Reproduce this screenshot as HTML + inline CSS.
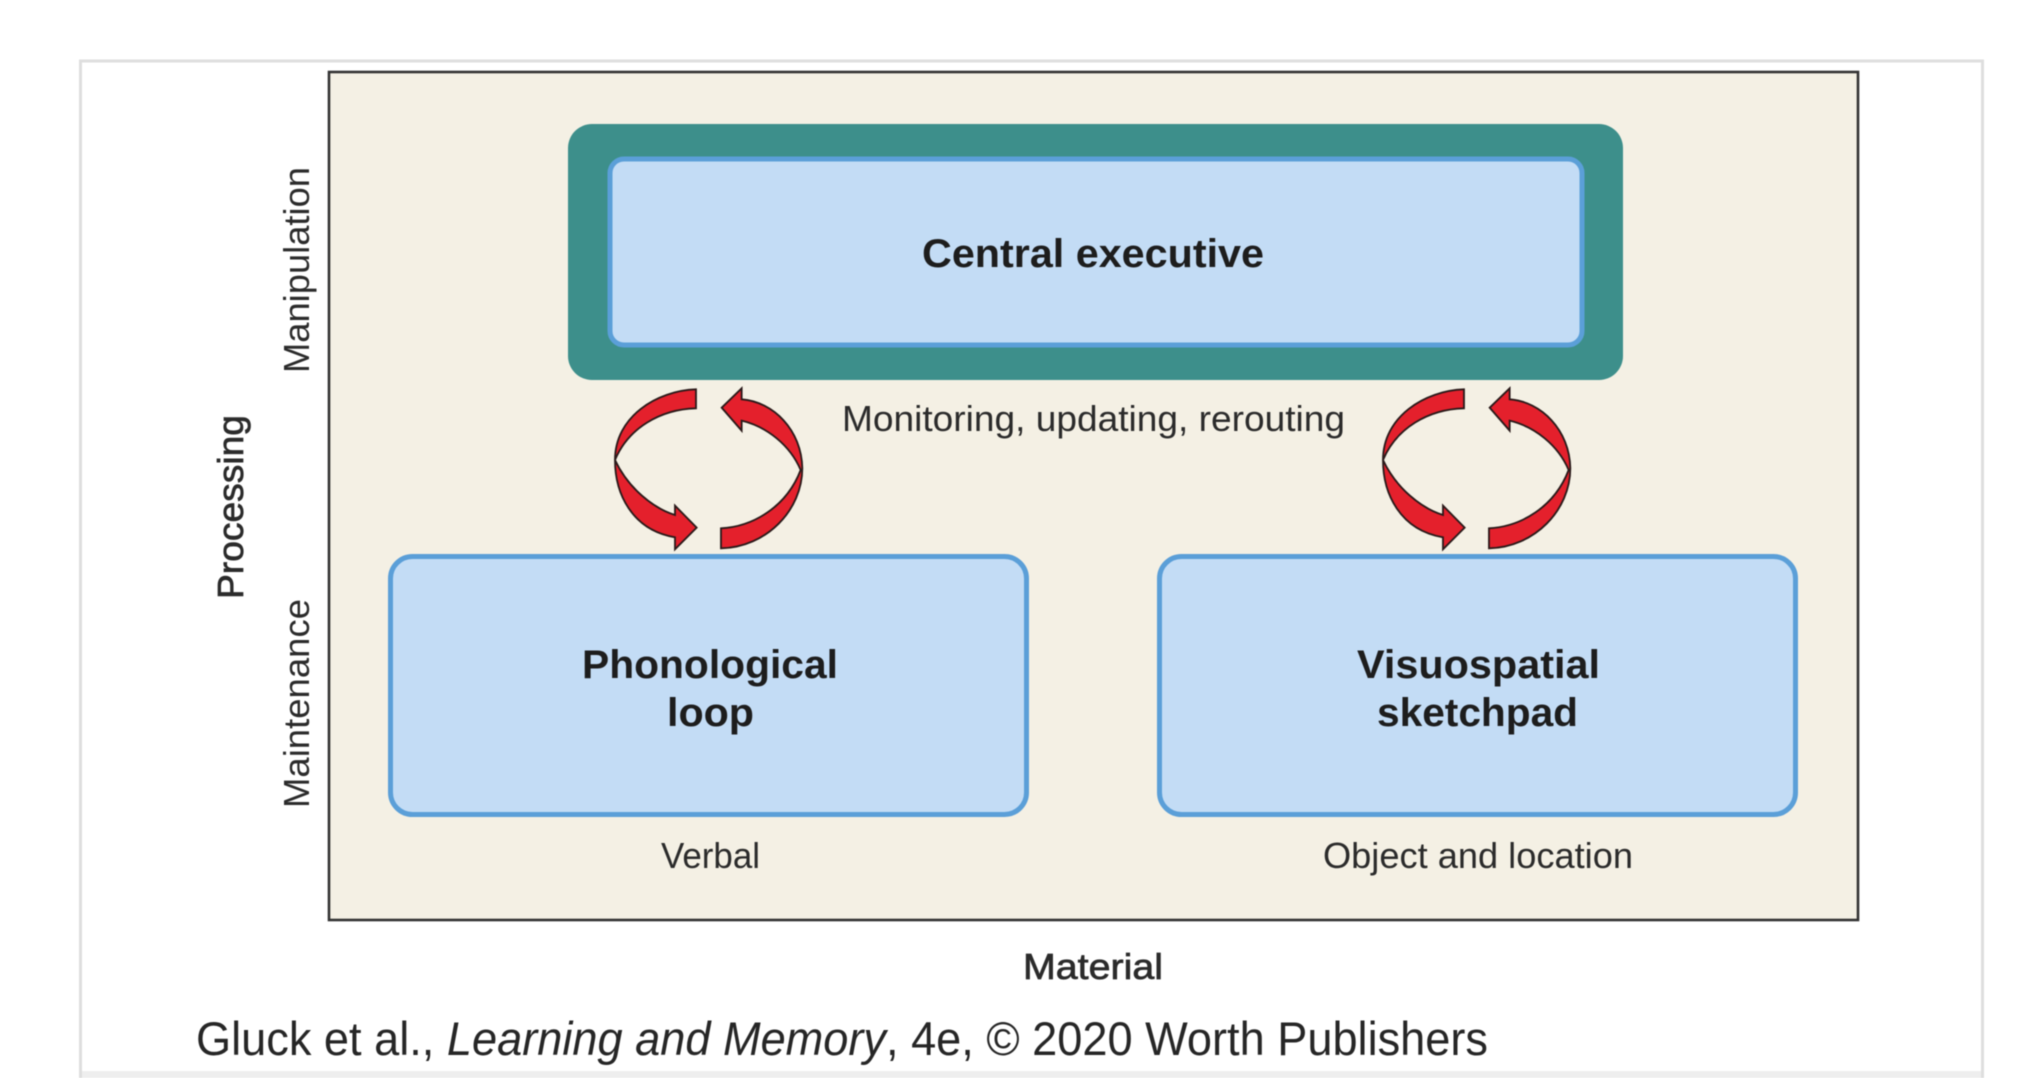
<!DOCTYPE html>
<html><head><meta charset="utf-8"><style>
html,body{margin:0;padding:0;background:#fff;width:2034px;height:1078px;overflow:hidden}
svg{display:block;filter:blur(0.6px)}
text{font-family:"Liberation Sans",sans-serif;fill:#2b2b2b}
</style></head><body>
<svg width="2034" height="1078" viewBox="0 0 2034 1078" xmlns="http://www.w3.org/2000/svg">
<defs>
<g id="pair">
<path d="M408,88 C290,92 165,170 165,300 C165,400 215,510 345,532 L345,568 L410,503 L345,437 L345,465 C280,445 205,385 165,300 C205,205 300,148 408,145 Z" fill="#e4202c" stroke="#2a1a1a" stroke-width="5.5" stroke-linejoin="miter"/>
<path d="M483,505 C580,500 680,440 722,330 C690,255 620,200 545,182 L545,212 L485,143 L545,85 L545,118 C640,125 725,210 727,325 C727,450 620,562 483,565 Z" fill="#e4202c" stroke="#2a1a1a" stroke-width="5.5" stroke-linejoin="miter"/>
</g>
</defs>
<rect width="2034" height="1078" fill="#fff"/>
<rect x="80.5" y="61" width="1902" height="1020" fill="#fff" stroke="#dedede" stroke-width="3"/>
<rect x="82" y="1071" width="1899" height="7" fill="#eeeeee"/>
<rect x="329" y="72" width="1529" height="848" fill="#f4f0e4" stroke="#333" stroke-width="2.6"/>
<rect x="568" y="124" width="1055" height="256" rx="24" fill="#3d8f8b"/>
<rect x="610" y="159" width="972" height="186" rx="14" fill="#c3dcf5" stroke="#5b9fd8" stroke-width="5"/>
<rect x="390.5" y="556.5" width="636" height="258" rx="22" fill="#c3dcf5" stroke="#5b9fd8" stroke-width="5"/>
<rect x="1159.5" y="556.5" width="636" height="258" rx="22" fill="#c3dcf5" stroke="#5b9fd8" stroke-width="5"/>
<g transform="translate(560,360) scale(0.3333)"><use href="#pair"/></g>
<g transform="translate(1328,360) scale(0.3333)"><use href="#pair"/></g>
<g font-weight="bold" font-size="40">
<text x="922" y="267" textLength="342" lengthAdjust="spacingAndGlyphs" style="font-weight:bold;fill:#1d1d1d">Central executive</text>
<text x="582" y="678" textLength="256" lengthAdjust="spacingAndGlyphs" style="font-weight:bold;fill:#1d1d1d">Phonological</text>
<text x="667" y="726" textLength="87" lengthAdjust="spacingAndGlyphs" style="font-weight:bold;fill:#1d1d1d">loop</text>
<text x="1357" y="678" textLength="243" lengthAdjust="spacingAndGlyphs" style="font-weight:bold;fill:#1d1d1d">Visuospatial</text>
<text x="1377" y="726" textLength="201" lengthAdjust="spacingAndGlyphs" style="font-weight:bold;fill:#1d1d1d">sketchpad</text>
</g>
<g font-size="36">
<text x="842" y="431" textLength="503" lengthAdjust="spacingAndGlyphs">Monitoring, updating, rerouting</text>
<text x="661" y="868" textLength="99" lengthAdjust="spacingAndGlyphs">Verbal</text>
<text x="1323" y="868" textLength="310" lengthAdjust="spacingAndGlyphs">Object and location</text>
<text transform="translate(309,373) rotate(-90)" textLength="206" lengthAdjust="spacingAndGlyphs">Manipulation</text>
<text transform="translate(309,808) rotate(-90)" textLength="209" lengthAdjust="spacingAndGlyphs">Maintenance</text>
<text x="1023" y="979" textLength="140" lengthAdjust="spacingAndGlyphs" style="stroke:#2b2b2b;stroke-width:.7">Material</text>
<text transform="translate(243,599) rotate(-90)" textLength="184" lengthAdjust="spacingAndGlyphs" style="stroke:#2b2b2b;stroke-width:.7">Processing</text>
</g>
<text x="196" y="1055" font-size="47" textLength="1292" lengthAdjust="spacingAndGlyphs" style="fill:#262626">Gluck et al., <tspan font-style="italic">Learning and Memory</tspan>, 4e, © 2020 Worth Publishers</text>
</svg>
</body></html>
